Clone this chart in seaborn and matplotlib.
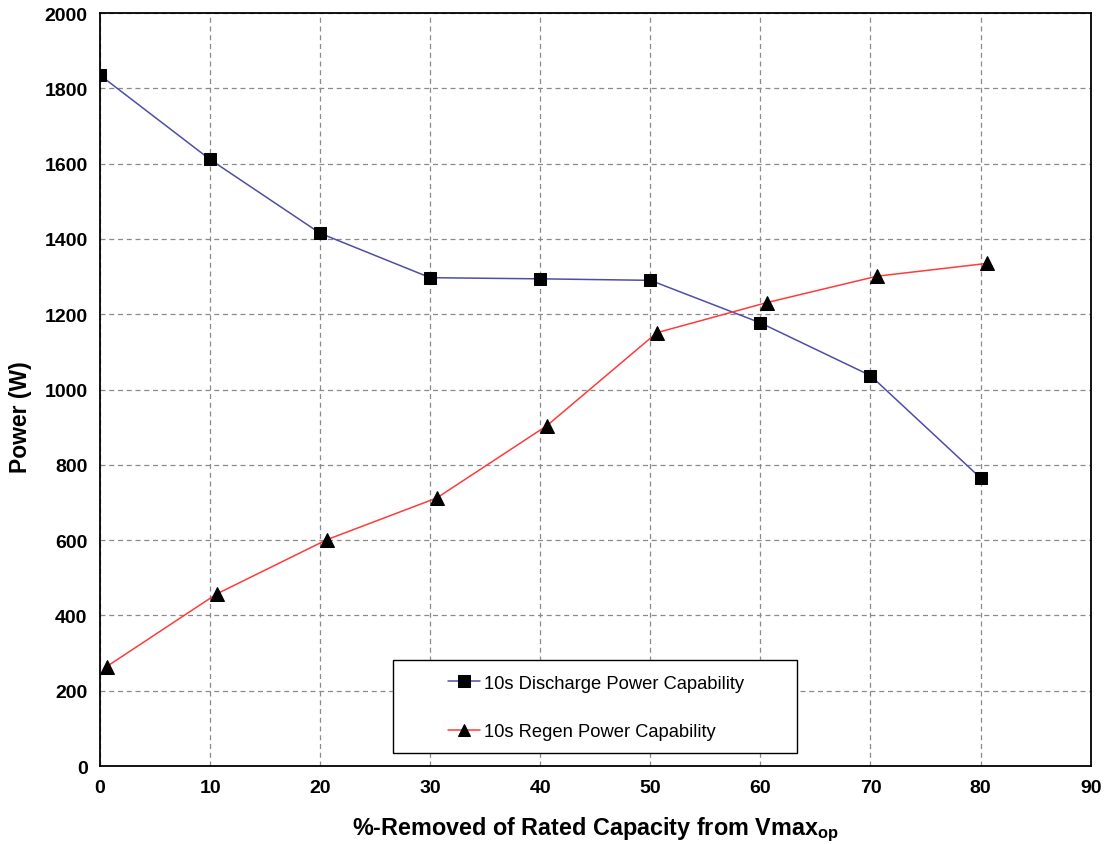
import matplotlib
matplotlib.use("Agg")
import matplotlib.pyplot as plt
from matplotlib.patches import Rectangle
import seaborn as sns
import pandas as pd

discharge_x = [0, 10, 20, 30, 40, 50, 60, 70, 80]
discharge_y = [1835, 1611, 1415, 1297, 1294, 1290, 1177, 1037, 765]
regen_x = [0.6, 10.6, 20.6, 30.6, 40.6, 50.6, 60.6, 70.6, 80.6]
regen_y = [264, 457, 601, 712, 904, 1151, 1231, 1301, 1335]
x_ticks = [0, 10, 20, 30, 40, 50, 60, 70, 80, 90]
y_ticks = [0, 200, 400, 600, 800, 1000, 1200, 1400, 1600, 1800, 2000]

sns.set_style("white")
plt.rcParams['font.family'] = ['Liberation Sans', 'DejaVu Sans']
plt.rcParams['mathtext.fontset'] = 'custom'
plt.rcParams['mathtext.bf'] = 'Liberation Sans:bold'
plt.rcParams['mathtext.rm'] = 'Liberation Sans'
plt.rcParams['text.color'] = 'black'
plt.rcParams['axes.labelcolor'] = 'black'
plt.rcParams['xtick.color'] = 'black'
plt.rcParams['ytick.color'] = 'black'

fig = plt.figure(figsize=(11.05, 8.45), dpi=100)
ax = fig.add_axes([0.0905, 0.0923, 0.8965, 0.8911])

d1 = pd.DataFrame({"x": discharge_x, "y": discharge_y})
d2 = pd.DataFrame({"x": regen_x, "y": regen_y})

sns.lineplot(data=d1, x="x", y="y", ax=ax, color="#4e4ea6", linewidth=1.1,
             marker="s", markersize=9, markerfacecolor="black", markeredgecolor="black",
             label="10s Discharge Power Capability", zorder=3)
sns.lineplot(data=d2, x="x", y="y", ax=ax, color="#ff3b3b", linewidth=1.1,
             marker="^", markersize=9.5, markerfacecolor="black", markeredgecolor="black",
             label="10s Regen Power Capability", zorder=3)

ax.set_xlim(0, 90)
ax.set_ylim(0, 2000)
ax.set_xticks(x_ticks)
ax.set_yticks(y_ticks)
ax.grid(True, linestyle=(0, (4, 3)), color="#8a8a8a", linewidth=0.9)
for s in ax.spines.values():
    s.set_color("black")
    s.set_linewidth(1.3)
ax.tick_params(axis="both", direction="out", length=5, width=1.2, color="black",
               labelsize=14, pad=4)
for lab in ax.get_xticklabels() + ax.get_yticklabels():
    lab.set_fontweight("bold")

ax.set_xlabel(r"%-Removed of Rated Capacity from Vmax$_{\mathbf{op}}$",
              fontsize=16.8, fontweight="bold", labelpad=14)
ax.set_ylabel("Power (W)", fontsize=16.5, fontweight="bold")
ax.yaxis.set_label_coords(-0.069, 0.465)

# legend box
ax.add_patch(Rectangle((0.296, 0.017), 0.408, 0.124, transform=ax.transAxes,
                       facecolor="white", edgecolor="black", linewidth=1.0, zorder=4))
leg = ax.legend(loc="center left", bbox_to_anchor=(0.3512, 0.0778),
                fontsize=13.2, frameon=False, handlelength=1.75,
                borderpad=0, labelspacing=1.7, borderaxespad=0,
                handletextpad=0.2)
leg.set_zorder(5)
for h in leg.legend_handles:
    h.set_markersize(9)

fig.savefig("out.png", dpi=100)
